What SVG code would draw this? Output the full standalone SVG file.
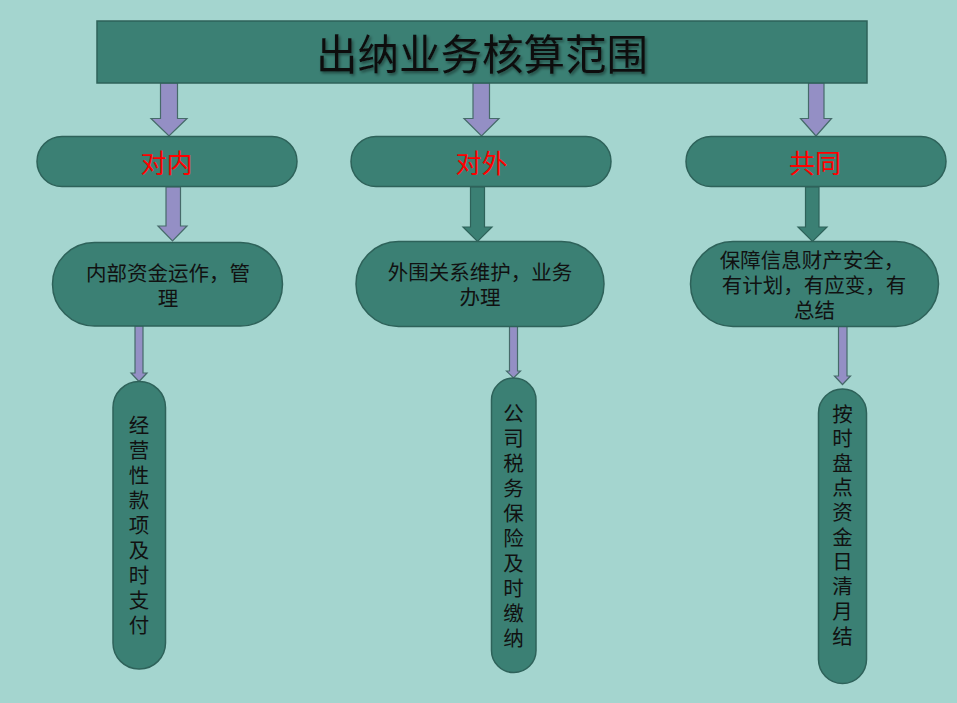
<svg xmlns="http://www.w3.org/2000/svg" width="957" height="703" viewBox="0 0 957 703">
<defs>
<style>
.node{fill:#3b8074;stroke:#2e625a;stroke-width:1.5}
.pa{fill:#948fc5;stroke:#466a6a;stroke-width:1.2}
.ta{fill:#3b8074;stroke:#2e625a;stroke-width:1.2}
text{font-family:"Microsoft YaHei","Noto Sans CJK SC","Noto Sans",sans-serif;dominant-baseline:central;text-anchor:middle}
.t{font-size:20.5px;fill:#111}
.r{font-size:26px;fill:#ff0000}
.h{font-size:41.5px;fill:#111}
</style>
<filter id="sh" x="-10%" y="-20%" width="120%" height="140%">
<feDropShadow dx="1.5" dy="2" stdDeviation="1.5" flood-color="#000" flood-opacity="0.45"/>
</filter>
</defs>
<rect width="957" height="703" fill="#a4d5cf"/>

<g id="connectors">
<polygon class="pa" points="160.5,83 177.5,83 177.5,118.5 187,118.5 169,136 151,118.5 160.5,118.5"/>
<polygon class="pa" points="473,83 489.5,83 489.5,118.5 499,118.5 481.5,136 464,118.5 473,118.5"/>
<polygon class="pa" points="808.5,83 824,83 824,118.5 831.5,118.5 816,136 800.5,118.5 808.5,118.5"/>
<polygon class="pa" points="166,187 180.5,187 180.5,226 187,226 172.5,241 158,226 166,226"/>
<polygon class="ta" points="470.5,187 484.5,187 484.5,227 492,227 477.5,241.5 463,227 470.5,227"/>
<polygon class="ta" points="805.5,187 819,187 819,227 827,227 812.5,241.5 798,227 805.5,227"/>
<polygon class="pa" points="135,326 143,326 143,373 147,373 139,381.5 131,373 135,373"/>
<polygon class="pa" points="509.5,326.5 517.5,326.5 517.5,371 520.5,371 513.5,378 506.5,371 509.5,371"/>
<polygon class="pa" points="838.5,326.5 847,326.5 847,376 850.5,376 842.5,384.5 834.5,376 838.5,376"/>
</g>

<g id="title">
<rect class="node" x="97" y="21" width="770" height="62"/>
<text class="h" x="482" y="52" filter="url(#sh)">出纳业务核算范围</text>
</g>

<g id="n-dui-nei">
<rect class="node" x="37" y="136.5" width="260" height="50" rx="25" ry="25"/>
<text class="r" x="166.5" y="161">对内</text>
</g>
<g id="n-dui-wai">
<rect class="node" x="351" y="136.5" width="260" height="50" rx="25" ry="25"/>
<text class="r" x="481.5" y="161">对外</text>
</g>
<g id="n-gong-tong">
<rect class="node" x="686" y="136.5" width="260" height="50" rx="25" ry="25"/>
<text class="r" x="815" y="161">共同</text>
</g>

<g id="n-nei-1">
<rect class="node" x="52.5" y="242.5" width="230" height="83.5" rx="42" ry="42"/>
<text class="t" x="168" y="272">内部资金运作，管</text>
<text class="t" x="168" y="296.5">理</text>
</g>
<g id="n-wai-1">
<rect class="node" x="356" y="241.5" width="248" height="85" rx="42.5" ry="42.5"/>
<text class="t" x="480" y="271">外围关系维护，业务</text>
<text class="t" x="480" y="296">办理</text>
</g>
<g id="n-gong-1">
<rect class="node" x="690.5" y="241.5" width="248" height="85" rx="42.5" ry="42.5"/>
<text class="t" x="812" y="258.5">保障信息财产安全，</text>
<text class="t" x="814" y="283.5">有计划，有应变，有</text>
<text class="t" x="814.5" y="308.5">总结</text>
</g>

<g id="n-nei-2">
<rect class="node" x="113" y="381.5" width="52.5" height="287.5" rx="26" ry="26"/>
<text class="t" x="139">
<tspan x="139" y="424">经</tspan><tspan x="139" y="449">营</tspan><tspan x="139" y="474">性</tspan><tspan x="139" y="499">款</tspan><tspan x="139" y="524">项</tspan><tspan x="139" y="549">及</tspan><tspan x="139" y="574">时</tspan><tspan x="139" y="599">支</tspan><tspan x="139" y="624">付</tspan>
</text>
</g>
<g id="n-wai-2">
<rect class="node" x="491.5" y="378" width="44.5" height="294.5" rx="22" ry="22"/>
<text class="t" x="513.5">
<tspan x="513.5" y="412">公</tspan><tspan x="513.5" y="437">司</tspan><tspan x="513.5" y="462">税</tspan><tspan x="513.5" y="487">务</tspan><tspan x="513.5" y="512">保</tspan><tspan x="513.5" y="537">险</tspan><tspan x="513.5" y="562">及</tspan><tspan x="513.5" y="587">时</tspan><tspan x="513.5" y="612">缴</tspan><tspan x="513.5" y="637">纳</tspan>
</text>
</g>
<g id="n-gong-2">
<rect class="node" x="818.5" y="389" width="48" height="294.5" rx="24" ry="24"/>
<text class="t" x="842.5">
<tspan x="842.5" y="412.5">按</tspan><tspan x="842.5" y="437">时</tspan><tspan x="842.5" y="461.5">盘</tspan><tspan x="842.5" y="486">点</tspan><tspan x="842.5" y="511">资</tspan><tspan x="842.5" y="535.5">金</tspan><tspan x="842.5" y="560">日</tspan><tspan x="842.5" y="585">清</tspan><tspan x="842.5" y="609.5">月</tspan><tspan x="842.5" y="634.5">结</tspan>
</text>
</g>
</svg>
